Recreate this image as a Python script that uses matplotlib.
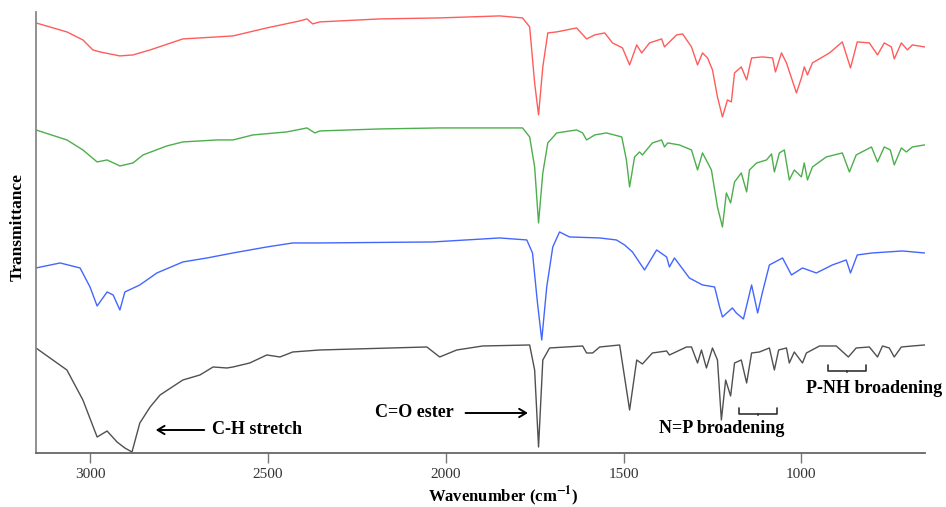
import matplotlib
matplotlib.use("Agg")
import matplotlib.pyplot as plt

plt.rcParams["font.family"] = ["Liberation Serif", "DejaVu Serif"]
plt.rcParams["mathtext.fontset"] = "stix"

# wavenumber (cm-1) and transmittance (a.u., offset traces)
red_wn = [3152, 3065, 3020, 2992, 2972, 2916, 2879, 2831, 2739, 2643, 2598, 2503, 2410, 2390, 2374, 2354,
          2185, 2017, 1848, 1784, 1764, 1750, 1739, 1727, 1713, 1688, 1632, 1604, 1581, 1553, 1531, 1503,
          1483, 1463, 1449, 1427, 1393, 1385, 1351, 1334, 1309, 1292, 1278, 1264, 1250, 1236, 1222, 1208,
          1197, 1188, 1169, 1154, 1140, 1110, 1081, 1073, 1056, 1042, 1014, 1000, 992, 983, 969, 921,
          885, 862, 843, 809, 786, 767, 747, 739, 719, 702, 688, 654]
red_t = [430, 421, 413, 403, 401, 397, 398, 403, 414, 416, 417, 425, 432, 434, 429, 431,
         434, 435, 437, 435, 426, 370, 338, 386, 420, 421, 425, 414, 418, 420, 410, 405,
         388, 408, 400, 410, 414, 406, 418, 419, 406, 388, 400, 395, 383, 356, 336, 353,
         351, 380, 386, 373, 395, 396, 395, 381, 400, 390, 360, 375, 386, 378, 390, 400,
         411, 385, 411, 410, 398, 410, 406, 394, 410, 403, 408, 406]

green_wn = [3152, 3065, 3020, 2980, 2952, 2916, 2879, 2851, 2784, 2739, 2643, 2598, 2542, 2447, 2390, 2368,
            2354, 2185, 2017, 1784, 1764, 1750, 1739, 1727, 1713, 1688, 1632, 1615, 1604, 1581, 1548, 1505,
            1492, 1483, 1469, 1455, 1447, 1419, 1393, 1385, 1376, 1343, 1309, 1292, 1278, 1253, 1236, 1222,
            1211, 1199, 1188, 1169, 1154, 1146, 1126, 1098, 1084, 1076, 1062, 1048, 1034, 1020, 1000, 992,
            983, 969, 930, 885, 865, 846, 803, 786, 767, 750, 739, 719, 705, 688, 654]
green_t = [323, 313, 303, 291, 293, 287, 290, 298, 307, 311, 313, 313, 318, 321, 325, 320,
           322, 324, 325, 325, 316, 286, 230, 280, 310, 320, 323, 320, 313, 318, 320, 316,
           293, 266, 296, 301, 298, 310, 313, 306, 310, 308, 303, 283, 300, 283, 246, 226,
           260, 250, 271, 280, 261, 283, 290, 293, 299, 281, 300, 303, 273, 283, 276, 290,
           273, 286, 296, 300, 281, 298, 306, 291, 306, 303, 288, 305, 301, 306, 308]

blue_wn = [3152, 3084, 3028, 3000, 2980, 2952, 2935, 2916, 2902, 2860, 2812, 2739, 2671, 2598, 2503, 2430,
           2354, 2037, 1848, 1772, 1756, 1742, 1730, 1716, 1699, 1680, 1652, 1567, 1520, 1497, 1475, 1441,
           1407, 1379, 1371, 1357, 1315, 1278, 1244, 1230, 1222, 1194, 1183, 1163, 1140, 1123, 1110, 1090,
           1053, 1028, 997, 958, 913, 874, 862, 843, 801, 716, 654]
blue_t = [185, 190, 185, 166, 147, 161, 158, 143, 161, 168, 180, 191, 195, 200, 206, 210,
          210, 211, 215, 213, 200, 150, 113, 166, 206, 221, 216, 215, 213, 208, 201, 183,
          203, 196, 186, 195, 175, 168, 166, 146, 136, 145, 140, 134, 168, 140, 160, 188,
          195, 178, 185, 180, 188, 193, 180, 198, 200, 202, 200]

grey_wn = [3152, 3065, 3020, 2980, 2952, 2924, 2902, 2882, 2860, 2831, 2803, 2739, 2691, 2654, 2615, 2598,
           2551, 2503, 2466, 2430, 2354, 2053, 2017, 1969, 1896, 1764, 1750, 1739, 1727, 1708, 1615, 1604,
           1587, 1567, 1511, 1483, 1463, 1447, 1419, 1379, 1371, 1323, 1309, 1292, 1281, 1267, 1250, 1236,
           1225, 1213, 1199, 1188, 1169, 1154, 1140, 1118, 1090, 1076, 1064, 1042, 1034, 1020, 997, 986,
           949, 902, 868, 846, 809, 786, 772, 753, 739, 719, 688, 654]
grey_t = [105, 83, 53, 16, 22, 11, 5, 1, 30, 46, 58, 73, 78, 86, 85, 86,
          90, 98, 96, 101, 103, 106, 96, 103, 107, 108, 83, 6, 93, 105, 107, 100,
          100, 106, 108, 43, 93, 89, 100, 102, 98, 106, 106, 90, 103, 85, 105, 93,
          33, 73, 57, 90, 93, 70, 100, 101, 105, 83, 103, 105, 90, 101, 90, 100,
          107, 107, 96, 105, 106, 96, 107, 105, 96, 106, 107, 108]

x_ticks = [3000, 2500, 2000, 1500, 1000]

fig = plt.figure(figsize=(9.46, 5.07), dpi=100)
ax = fig.add_axes([0.038, 0.1065, 0.940, 0.870])

ax.plot(red_wn, red_t, color="#ff5c5c", lw=1.0)
ax.plot(green_wn, green_t, color="#4caf4c", lw=1.0)
ax.plot(blue_wn, blue_t, color="#4466ff", lw=1.0)
ax.plot(grey_wn, grey_t, color="#505050", lw=1.0)

ax.set_xlim(3152, 652)
ax.set_ylim(0, 441)
ax.set_xticks(x_ticks)
ax.set_yticks([])
ax.tick_params(axis="x", direction="out", length=7, width=1, color="#777777",
               labelsize=11, labelcolor="#333333", pad=4)

for side in ["top", "right"]:
    ax.spines[side].set_visible(False)
ax.spines["left"].set_color("#888888")
ax.spines["left"].set_linewidth(1.3)
ax.spines["bottom"].set_color("#666666")
ax.spines["bottom"].set_linewidth(1.3)

ax.set_xlabel(r"Wavenumber (cm$^{\mathbf{-1}}$)", fontsize=12, fontweight="bold")
ax.xaxis.set_label_coords(0.526, -0.071)
ax.set_ylabel("Transmittance", fontsize=12.5, fontweight="bold")
ax.yaxis.set_label_coords(-0.012, 0.512)

arrow = dict(arrowstyle="->, head_length=0.5, head_width=0.3", color="black", lw=1.4)
ax.annotate("", xy=(2823, 23), xytext=(2671, 23), arrowprops=arrow)
ax.text(2657, 23, "C-H stretch", fontsize=13, fontweight="bold", va="center", ha="left")
ax.annotate("", xy=(1761, 40), xytext=(1952, 40), arrowprops=arrow)
ax.text(1978, 40, "C=O ester", fontsize=13, fontweight="bold", va="center", ha="right")

bracket = dict(arrowstyle="-[, widthB=1.35, lengthB=0.45", color="#333333", lw=1.2)
ax.annotate("", xy=(1122, 42), xytext=(1122, 35), arrowprops=bracket)
ax.text(1225, 24, "N=P broadening", fontsize=13, fontweight="bold", va="center", ha="center")
ax.annotate("", xy=(872, 85), xytext=(872, 78), arrowprops=bracket)
ax.text(795, 64, "P-NH broadening", fontsize=13, fontweight="bold", va="center", ha="center")

fig.savefig("out.png", dpi=100)
